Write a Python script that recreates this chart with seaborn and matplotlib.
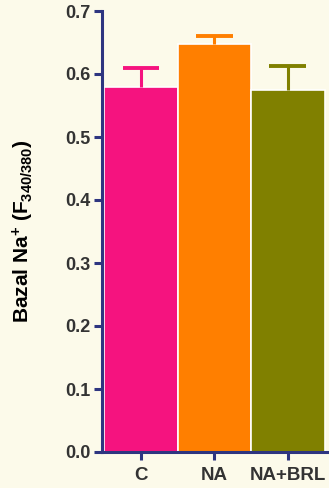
import matplotlib
matplotlib.use("Agg")
import matplotlib.pyplot as plt
import seaborn as sns
import pandas as pd

groups = ["C", "NA", "NA+BRL"]
means = [0.579, 0.648, 0.575]
sems = [0.030, 0.013, 0.037]
colors = ["#F5137F", "#FF7F00", "#808000"]
y_ticks = [0.0, 0.1, 0.2, 0.3, 0.4, 0.5, 0.6, 0.7]

sns.set_style("ticks")
plt.rcParams["font.family"] = ["Liberation Sans", "DejaVu Sans"]
plt.rcParams["mathtext.fontset"] = "custom"
plt.rcParams["mathtext.rm"] = "Liberation Sans:bold"
plt.rcParams["mathtext.bf"] = "Liberation Sans:bold"
plt.rcParams["mathtext.it"] = "Liberation Sans:bold"

bg = "#FCFAEA"
navy = "#2E3580"
txt = "#333333"

fig = plt.figure(figsize=(3.29, 4.88), dpi=100, facecolor=bg)
ax = fig.add_axes([102 / 329, 1 - 452 / 488, 227 / 329, (452 - 11) / 488])
ax.set_facecolor("none")

df = pd.DataFrame({"group": groups, "value": means})
sns.barplot(data=df, x="group", y="value", hue="group", palette=colors,
            order=groups, hue_order=groups, legend=False, width=1.0,
            saturation=1, edgecolor="white", linewidth=1.2, ax=ax, zorder=2)

# upward-only error bars with a cap at the top
for i, (m, e, c) in enumerate(zip(means, sems, colors)):
    ax.vlines(i, m, m + e, colors=c, linewidth=2.2, zorder=3)
    ax.hlines(m + e, i - 0.25, i + 0.25, colors=c, linewidth=2.8, zorder=3)

ax.set_xlim(-0.53, 2.56)
ax.set_ylim(0, 0.7)
ax.set_yticks(y_ticks)
ax.set_yticklabels([f"{t:.1f}" for t in y_ticks])

for side in ["top", "right"]:
    ax.spines[side].set_visible(False)
for side in ["left", "bottom"]:
    ax.spines[side].set_color(navy)
    ax.spines[side].set_linewidth(2.2)
    ax.spines[side].set_zorder(4)

ax.tick_params(axis="both", colors=navy, width=2.2, length=6, direction="out")
ax.tick_params(axis="y", labelcolor=txt, labelsize=13, pad=2)
ax.tick_params(axis="x", labelcolor=txt, labelsize=13.5, pad=4.5)
for lab in ax.get_xticklabels() + ax.get_yticklabels():
    lab.set_fontweight("bold")

ax.set_xlabel("")
ax.set_ylabel(r"Bazal Na$^{+}$ (F$_{340/380}$)", fontsize=15,
              fontweight="bold", color="black")
ax.yaxis.set_label_coords(-0.29, 0.5)

fig.savefig("out.png", dpi=100, facecolor=bg)
